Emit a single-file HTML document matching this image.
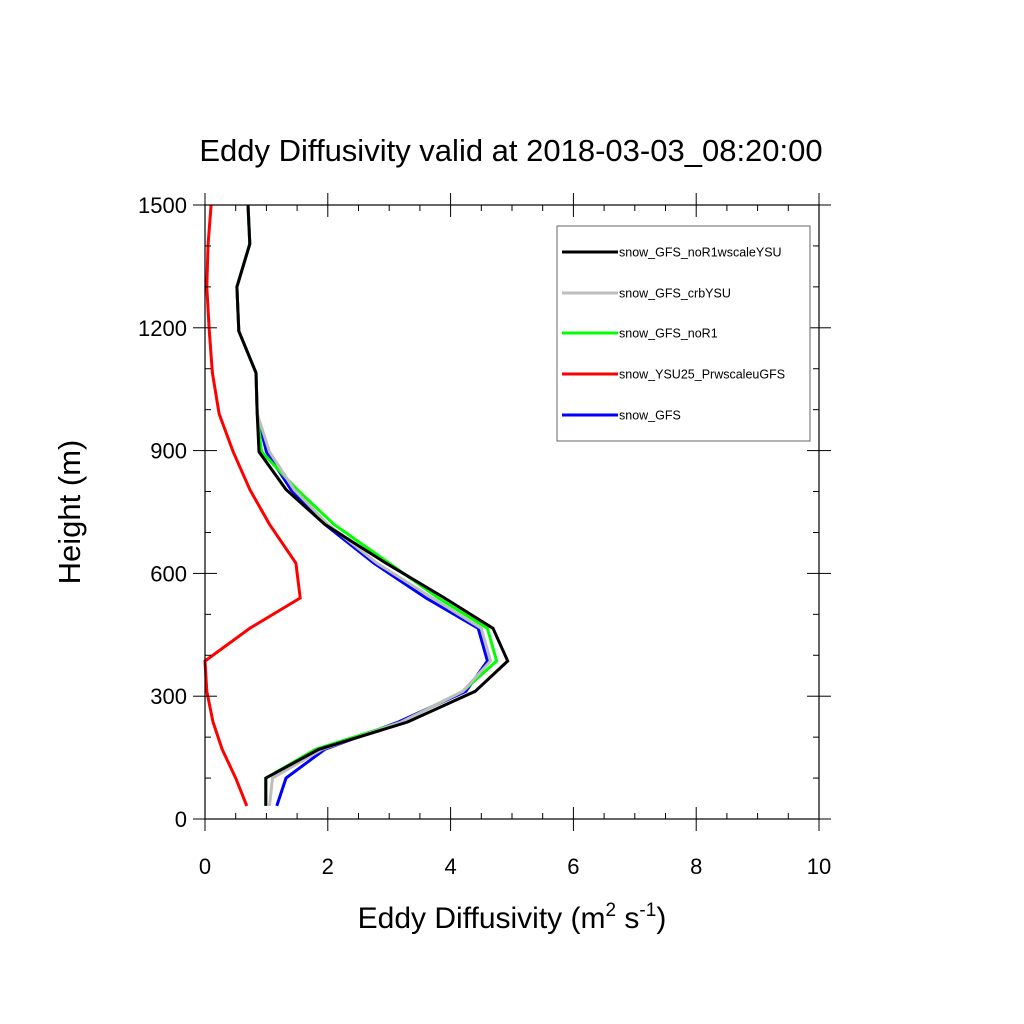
<!DOCTYPE html>
<html><head><meta charset="utf-8"><style>
html,body{margin:0;padding:0;background:#fff;}
svg{display:block;font-family:"Liberation Sans",Arial,sans-serif;}
</style></head><body>
<svg id="chart" width="1024" height="1024" viewBox="0 0 1024 1024" xmlns="http://www.w3.org/2000/svg">
<rect width="1024" height="1024" fill="#fff"/>
<text x="511" y="161" font-size="31" text-anchor="middle">Eddy Diffusivity valid at 2018-03-03_08:20:00</text>
<g id="plot"></g>
<text x="512" y="928" font-size="30" text-anchor="middle">Eddy Diffusivity (m<tspan font-size="19" dy="-12">2</tspan><tspan dy="12"> s</tspan><tspan font-size="19" dy="-12">-1</tspan><tspan dy="12">)</tspan></text>
<text transform="translate(80,512) rotate(-90)" font-size="31" text-anchor="middle">Height (m)</text>
<g id="legend">
<rect x="557" y="226" width="253" height="215" fill="#fff" stroke="#666" stroke-width="1"/>
</g>
</svg>
<script>
const heights = [32,100,170,237,312,386,466,540,625,720,805,897,990,1090,1192,1300,1405,1500];
const blackVals = [0.99,0.99,1.85,3.3,4.4,4.93,4.69,3.9,2.95,1.95,1.32,0.88,0.85,0.83,0.55,0.52,0.73,0.70];
const grayVals  = [1.05,1.1,1.9,3.2,4.2,4.65,4.5,3.7,2.8,2.0,1.45,1.05,0.85,0.83,0.55,0.52,0.73,0.70];
const greenVals = [0.99,0.99,1.8,3.2,4.2,4.75,4.6,3.8,3.0,2.1,1.5,0.92,0.85,0.83,0.55,0.52,0.73,0.70];
const redVals   = [0.68,0.5,0.28,0.13,0.03,0.0,0.73,1.55,1.48,1.05,0.73,0.46,0.23,0.12,0.07,0.03,0.05,0.1];
const blueVals  = [1.17,1.32,1.95,3.15,4.25,4.6,4.45,3.6,2.75,1.95,1.4,1.0,0.85,0.83,0.55,0.52,0.73,0.70];
const seriesNames = ["snow_GFS_noR1wscaleYSU","snow_GFS_crbYSU","snow_GFS_noR1","snow_YSU25_PrwscaleuGFS","snow_GFS"];
const xTicks = [0,2,4,6,8,10];
const yTicks = [0,300,600,900,1200,1500];

const NS="http://www.w3.org/2000/svg";
const X0=205,X1=819,Y0=819,Y1=205;
function xs(v){return X0+(v-0)/(10-0)*(X1-X0);}
function ys(v){return Y0-(v-0)/(1500-0)*(Y0-Y1);}
const plot=document.getElementById('plot');
function mk(tag,attrs,parent){const e=document.createElementNS(NS,tag);for(const k in attrs)e.setAttribute(k,attrs[k]);(parent||plot).appendChild(e);return e;}

// series (draw order: blue, red, green, gray, black on top)
const series=[
 {vals:blueVals,color:"#0000ff",name:"series-snow-gfs"},
 {vals:redVals,color:"#ff0000",name:"series-snow-ysu25-prwscaleugfs"},
 {vals:greenVals,color:"#00ff00",name:"series-snow-gfs-nor1"},
 {vals:grayVals,color:"#bdbdbd",name:"series-snow-gfs-crbysu"},
 {vals:blackVals,color:"#000000",name:"series-snow-gfs-nor1wscaleysu"}
];
series.forEach(s=>{
  const pts=s.vals.map((v,i)=>xs(v).toFixed(1)+","+ys(heights[i]).toFixed(1)).join(" ");
  const p=mk('polyline',{points:pts,fill:"none",stroke:s.color,"stroke-width":3,"stroke-linejoin":"miter"});
  
  
});

// frame
const fr=mk('rect',{x:X0,y:Y1,width:X1-X0,height:Y0-Y1,fill:"none",stroke:"#000","stroke-width":1.2});



// x ticks
for(let v=0;v<=10.001;v+=0.5){
  const major=Math.abs(v-Math.round(v/2)*2)<1e-6;
  const L=major?12:6;const x=xs(v);
  mk('line',{x1:x,y1:Y0,x2:x,y2:Y0-L,stroke:"#000","stroke-width":1});
  mk('line',{x1:x,y1:Y1,x2:x,y2:Y1+L,stroke:"#000","stroke-width":1});
}
xTicks.forEach(v=>{
  const t=mk('text',{x:xs(v),y:Y0+55,"font-size":22,"text-anchor":"middle"});
  t.textContent=v;
  
  
});
// y ticks
for(let v=0;v<=1500;v+=100){
  const major=v%300===0;
  const L=major?12:6;const y=ys(v);
  mk('line',{x1:X0,y1:y,x2:X0+L,y2:y,stroke:"#000","stroke-width":1});
  mk('line',{x1:X1,y1:y,x2:X1-L,y2:y,stroke:"#000","stroke-width":1});
  if(major){
    mk('line',{x1:X0,y1:y,x2:X0-12,y2:y,stroke:"#000","stroke-width":1});
    mk('line',{x1:X1,y1:y,x2:X1+12,y2:y,stroke:"#000","stroke-width":1});
  }
}
yTicks.forEach(v=>{
  const t=mk('text',{x:X0-18,y:ys(v)+8,"font-size":22,"text-anchor":"end"});
  t.textContent=v;
  
  
});
// x major outer ticks
xTicks.forEach(v=>{
  mk('line',{x1:xs(v),y1:Y0,x2:xs(v),y2:Y0+12,stroke:"#000","stroke-width":1});
  mk('line',{x1:xs(v),y1:Y1,x2:xs(v),y2:Y1-12,stroke:"#000","stroke-width":1});
});

// legend
const legend=document.getElementById('legend');
const legColors=["#000000","#bdbdbd","#00ff00","#ff0000","#0000ff"];
const legY=[252,293,333,374,415];
seriesNames.forEach((n,i)=>{
  const l=mk('line',{x1:562,y1:legY[i],x2:618,y2:legY[i],stroke:legColors[i],"stroke-width":3},legend);
  
  
  const t=mk('text',{x:619,y:legY[i]+4.5,"font-size":12.5},legend);
  t.textContent=n;
  
  
});
</script>
</body></html>
